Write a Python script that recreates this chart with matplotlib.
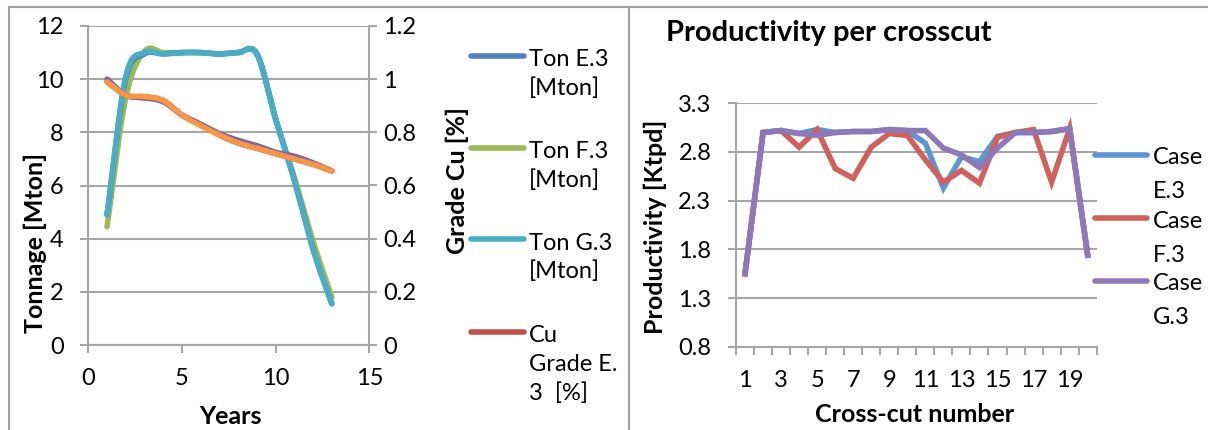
import numpy as np
import matplotlib
matplotlib.use("Agg")
import matplotlib.pyplot as plt
from matplotlib.lines import Line2D

plt.rcParams['font.family'] = ['Lato', 'DejaVu Sans']

# ---- Left chart data: tonnage and copper grade by year ----
years = [1, 2, 3, 4, 5, 6, 7, 8, 9, 10, 11, 12, 13]
ton_e3 = [4.9, 10.0, 10.95, 10.95, 11.0, 11.0, 10.95, 11.0, 10.95, 8.5, 6.2, 3.6, 1.55]
ton_f3 = [4.45, 9.3, 11.05, 11.0, 11.0, 11.0, 10.95, 11.0, 10.95, 8.5, 6.3, 3.9, 1.8]
ton_g3 = [4.9, 10.1, 11.0, 10.95, 11.0, 11.0, 10.95, 11.0, 10.95, 8.5, 6.2, 3.6, 1.55]
grade_e3 = [0.99, 0.94, 0.93, 0.92, 0.865, 0.83, 0.79, 0.76, 0.74, 0.72, 0.70, 0.68, 0.655]
grade_f3 = [1.0, 0.94, 0.93, 0.915, 0.865, 0.83, 0.795, 0.77, 0.75, 0.725, 0.71, 0.685, 0.655]
grade_g3 = [0.99, 0.94, 0.935, 0.92, 0.865, 0.825, 0.79, 0.76, 0.74, 0.72, 0.70, 0.68, 0.655]

# ---- Right chart data: productivity per cross-cut ----
crosscuts = list(range(1, 21))
case_e3 = [1.55, 3.0, 3.02, 2.99, 3.03, 3.0, 3.01, 3.01, 3.03, 3.02, 2.89, 2.43, 2.75, 2.70,
           2.96, 3.0, 3.0, 3.01, 3.04, 1.74]
case_f3 = [1.55, 3.0, 3.02, 2.85, 3.03, 2.63, 2.53, 2.85, 2.99, 2.97, 2.72, 2.49, 2.61, 2.48,
           2.95, 3.0, 3.03, 2.49, 3.04, 1.74]
case_g3 = [1.55, 3.0, 3.02, 2.99, 2.97, 3.0, 3.01, 3.01, 3.03, 3.02, 3.02, 2.84, 2.77, 2.64,
           2.84, 3.0, 3.0, 3.01, 3.04, 1.74]
xtick_labels = ['1', '3', '5', '7', '9', '11', '13', '15', '17', '19']

C_BLUE, C_GREEN, C_TEAL = '#4F81BD', '#9BBB59', '#4BACC6'
C_RED, C_PURPLE, C_ORANGE = '#C0504D', '#8064A2', '#F79646'
R_BLUE, R_RED, R_PURPLE = '#5B96D1', '#D0605B', '#8E79B8'
GRID = '#A6A6A6'

W, H = 1208, 430
PX = 72.0 / 100  # points per pixel at 100 dpi

TICK_FS = 17
LABEL_FS = 18
LEGEND_FS = 17


def smooth(x, y, n=24):
    """Catmull-Rom curve through the points, like a smoothed Excel line."""
    x = np.asarray(x, float)
    y = np.asarray(y, float)
    px = np.concatenate([[2 * x[0] - x[1]], x, [2 * x[-1] - x[-2]]])
    py = np.concatenate([[2 * y[0] - y[1]], y, [2 * y[-1] - y[-2]]])
    xs, ys = [], []
    for i in range(1, len(px) - 2):
        p0, p1, p2, p3 = (np.array([px[j], py[j]]) for j in (i - 1, i, i + 1, i + 2))
        c1 = p1 + (p2 - p0) / 6.0
        c2 = p2 - (p3 - p1) / 6.0
        t = np.linspace(0, 1, n, endpoint=(i == len(px) - 3))[:, None]
        pts = ((1 - t) ** 3) * p1 + 3 * ((1 - t) ** 2) * t * c1 + 3 * (1 - t) * t ** 2 * c2 + t ** 3 * p2
        xs.append(pts[:, 0])
        ys.append(pts[:, 1])
    return np.concatenate(xs), np.concatenate(ys)


def fx(px):
    return px / W


def fy(py):
    return 1 - py / H


def style_spines(ax, visible):
    for s in ('top', 'right', 'left', 'bottom'):
        ax.spines[s].set_visible(s in visible)
        ax.spines[s].set_color(GRID)
        ax.spines[s].set_linewidth(1.5 * PX * 1.4)


fig = plt.figure(figsize=(W / 100, H / 100), dpi=100)
fig.patch.set_facecolor('white')

# outer chart frames
frame_kw = dict(color='#A0A0A0', lw=1.5, transform=fig.transFigure)
fig.add_artist(Line2D([fx(9), fx(9)], [fy(7), 0], **frame_kw))
fig.add_artist(Line2D([fx(9), 1], [fy(7), fy(7)], **frame_kw))
fig.add_artist(Line2D([fx(629), fx(629)], [fy(7), 0], **frame_kw))

tick_kw = dict(colors=GRID, length=8 * PX, width=1.5 * PX * 1.4, labelsize=TICK_FS,
               labelcolor='black')

# ---------------- Left chart ----------------
axl = fig.add_axes([fx(88.3), fy(345), fx(369.3) - fx(88.3), fy(26) - fy(345)])
axl.set_xlim(0, 15)
axl.set_ylim(0, 12)
axl.set_xticks([0, 5, 10, 15])
axl.set_yticks([0, 2, 4, 6, 8, 10, 12])
axl.grid(axis='y', color=GRID, lw=1.5)
axl.set_axisbelow(True)
style_spines(axl, ('left', 'bottom'))
axl.tick_params(axis='x', pad=11, **tick_kw)
axl.tick_params(axis='y', pad=12, **tick_kw)

axr = axl.twinx()
axr.set_ylim(0, 1.2)
axr.set_yticks([0, 0.2, 0.4, 0.6, 0.8, 1.0, 1.2])
axr.set_yticklabels(['0', '0.2', '0.4', '0.6', '0.8', '1', '1.2'])
style_spines(axr, ('right',))
axr.tick_params(axis='y', pad=4, **tick_kw)

lw = 4.0
for vals, col in ((ton_f3, C_GREEN), (ton_e3, C_BLUE), (ton_g3, C_TEAL)):
    sx, sy = smooth(years, vals)
    axl.plot(sx, sy, color=col, lw=lw, solid_capstyle='round', zorder=3)
for vals, col in ((grade_e3, C_RED), (grade_f3, C_PURPLE), (grade_g3, C_ORANGE)):
    sx, sy = smooth(years, vals)
    axr.plot(sx, sy, color=col, lw=lw, solid_capstyle='round', zorder=3)

fig.text(fx(35), fy(243), 'Tonnage [Mton]', rotation=90, ha='center', va='center',
         fontsize=LABEL_FS, fontweight='bold')
fig.text(fx(457), fy(181), 'Grade Cu [%]', rotation=90, ha='center', va='center',
         fontsize=LABEL_FS, fontweight='bold')
fig.text(fx(230), fy(416), 'Years', ha='center', va='center', fontsize=LABEL_FS,
         fontweight='bold')

# left legend, drawn beside the plot with wrapped labels
left_legend = [
    (C_BLUE, 55.7, ['Ton E.3', '[Mton]']),
    (C_GREEN, 147.7, ['Ton F.3', '[Mton]']),
    (C_TEAL, 239.0, ['Ton G.3', '[Mton]']),
    (C_RED, 331.7, ['Cu', 'Grade E.', '3  [%]']),
]
for col, yy, lines in left_legend:
    fig.add_artist(Line2D([fx(471), fx(524)], [fy(yy), fy(yy)], color=col, lw=4,
                          solid_capstyle='round', transform=fig.transFigure))
    for k, t in enumerate(lines):
        fig.text(fx(529), fy(yy + 4 + k * 28.5), t, ha='left', va='center',
                 fontsize=LEGEND_FS)

# ---------------- Right chart ----------------
ax2 = fig.add_axes([fx(736), fy(346.7), fx(1096.7) - fx(736), fy(103.3) - fy(346.7)])
ax2.set_xlim(0.5, 20.5)
ax2.set_ylim(0.8, 3.3)
ax2.set_yticks([0.8, 1.3, 1.8, 2.3, 2.8, 3.3])
ax2.set_yticklabels(['0.8', '1.3', '1.8', '2.3', '2.8', '3.3'])
ax2.set_xticks(np.arange(0.5, 20.6, 1.0))
ax2.set_xticklabels([])
ax2.set_xticks(crosscuts[::2], minor=True)
ax2.set_xticklabels(xtick_labels, minor=True)
ax2.tick_params(axis='x', which='major', **tick_kw)
ax2.tick_params(axis='x', which='minor', length=0, labelsize=TICK_FS, pad=17)
ax2.tick_params(axis='y', pad=12, **tick_kw)
ax2.grid(axis='y', color=GRID, lw=1.5)
ax2.set_axisbelow(True)
style_spines(ax2, ('left', 'bottom'))

for vals, col in ((case_e3, R_BLUE), (case_f3, R_RED), (case_g3, R_PURPLE)):
    ax2.plot(crosscuts, vals, color=col, lw=4, solid_joinstyle='miter', zorder=3)

fig.text(fx(829), fy(33), 'Productivity per crosscut', ha='center', va='center',
         fontsize=21, fontweight='bold')
fig.text(fx(655), fy(227), 'Productivity [Ktpd]', rotation=90, ha='center', va='center',
         fontsize=LABEL_FS, fontweight='bold')
fig.text(fx(915), fy(415), 'Cross-cut number', ha='center', va='center',
         fontsize=LABEL_FS, fontweight='bold')

right_legend = [
    (R_BLUE, 155.0, ['Case', 'E.3']),
    (R_RED, 218.3, ['Case', 'F.3']),
    (R_PURPLE, 281.0, ['Case', 'G.3']),
]
for col, yy, lines in right_legend:
    fig.add_artist(Line2D([fx(1095), fx(1147)], [fy(yy), fy(yy)], color=col, lw=4,
                          solid_capstyle='round', transform=fig.transFigure))
    for k, t in enumerate(lines):
        fig.text(fx(1153), fy(yy + 3 + k * 34), t, ha='left', va='center',
                 fontsize=LEGEND_FS)

fig.savefig('out.png', dpi=100)
